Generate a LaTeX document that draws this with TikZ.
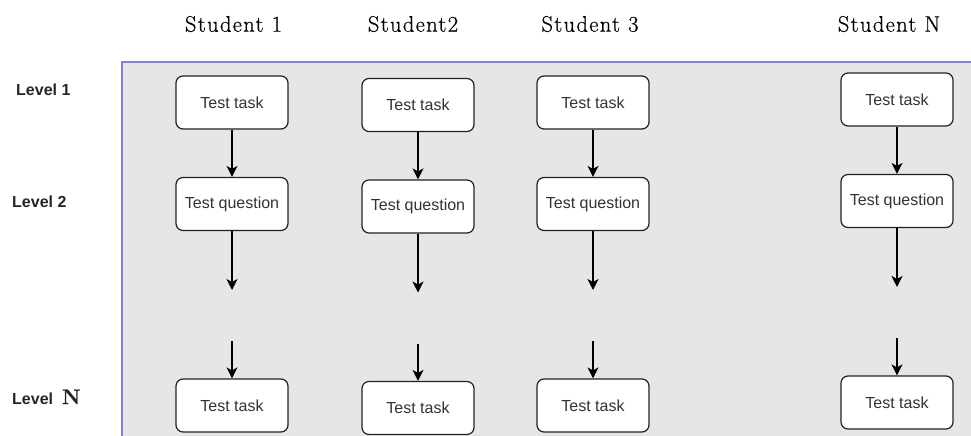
\documentclass[tikz,border=0pt]{standalone}
\usepackage{fontspec}
\setmainfont{Liberation Sans}
\newfontfamily\hdrfont[LetterSpace=6,FakeBold=0.6]{Latin Modern Roman}
\newfontfamily\cmfont[FakeBold=1]{Latin Modern Roman}
\usetikzlibrary{arrows.meta}
\definecolor{panelgray}{HTML}{E6E6E6}
\definecolor{panelblue}{HTML}{8080DD}
\definecolor{boxtext}{HTML}{333333}
\definecolor{boxline}{HTML}{222222}
\begin{document}
\begin{tikzpicture}[x=1pt,y=-1pt,
  taskbox/.style={draw=boxline, line width=1.2pt, rounded corners=7pt, fill=white,
    minimum width=112pt, minimum height=53pt, inner sep=0pt,
    font=\fontsize{16}{18}\selectfont, text=boxtext},
  flowarrow/.style={-{Stealth[length=11pt,width=11pt,inset=3pt]}, line width=1.4pt, draw=black},
  header/.style={font=\hdrfont\fontsize{22.5}{24}\selectfont, text=black},
  levellabel/.style={anchor=west, inner sep=0pt, font=\bfseries\fontsize{16}{18}\selectfont, text=black!85}
]
\useasboundingbox (0,0) rectangle (971,436);
\fill[panelgray] (122,62) rectangle (971,436);
\draw[panelblue, line width=1.3pt] (122,436) -- (122,62) -- (971,62);

\node[header] (h1) at (233.5,24) {Student 1};
\node[header] (h2) at (413,24) {Student2};
\node[header] (h3) at (590,24) {Student 3};
\node[header] (h4) at (889,24) {Student N};

\node[levellabel] (l1) at (16,90) {Level 1};
\node[levellabel] (l2) at (12,202) {Level 2};
\node[levellabel] (l3) at (12,397) {Level\ \ {\cmfont\fontsize{21}{22}\selectfont N}};

\foreach \i/\cx/\dy in {1/232/0, 2/418/2.5, 3/593/0, 4/897/-3}{
  \node[taskbox] (t\i) at (\cx,102.5+\dy) {Test task};
  \node[taskbox] (q\i) at (\cx,204+\dy) {Test question};
  \node[taskbox] (b\i) at (\cx,405.5+\dy) {Test task};
  \coordinate (a\i) at (\cx,290+\dy);
  \coordinate (c\i) at (\cx,341+\dy);
  \draw[flowarrow] (t\i) -- (q\i);
  \draw[flowarrow] (q\i) -- (a\i);
  \draw[flowarrow] (c\i) -- (b\i);
}
\end{tikzpicture}
\end{document}
